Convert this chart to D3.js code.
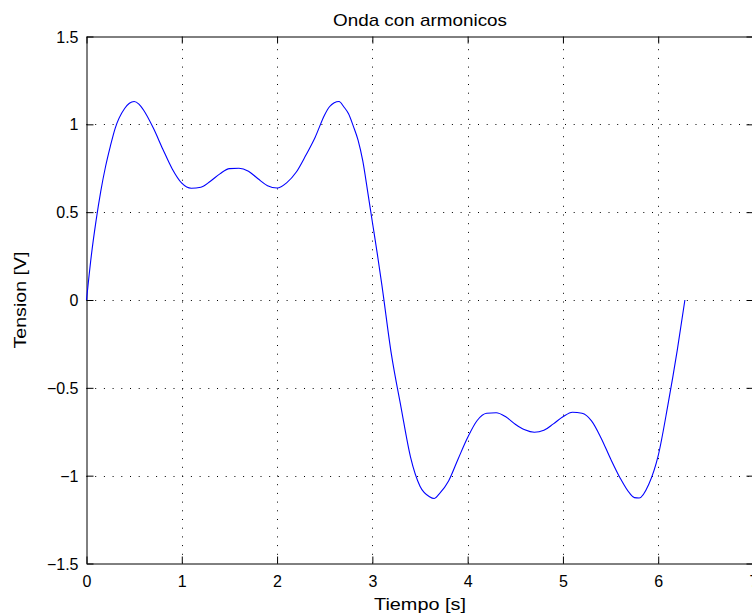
<!DOCTYPE html>
<html>
<head>
<meta charset="utf-8">
<script src="https://cdn.jsdelivr.net/npm/d3@7"></script>
<style>
  body { margin: 0; background: #fff; }
  text { font-family: "Liberation Sans", Arial, sans-serif; fill: #000; }
</style>
</head>
<body>
<div id="chart"></div>
<script>
const tiempo = [0, 0.05, 0.1, 0.15, 0.2, 0.25, 0.3, 0.4, 0.45, 0.5, 0.55, 0.6, 0.7, 0.8, 0.9,
  1.0, 1.1, 1.2, 1.3, 1.4, 1.5, 1.6, 1.7, 1.8, 1.9, 2.0, 2.1, 2.2, 2.3, 2.4, 2.5, 2.55, 2.6, 2.65, 2.7,
  2.75, 2.8, 2.85, 2.9, 2.95, 3.0, 3.05, 3.1, 3.2, 3.3, 3.4, 3.5, 3.6, 3.65, 3.7, 3.8, 3.9, 4.0, 4.1,
  4.2, 4.3, 4.4, 4.5, 4.6, 4.7, 4.8, 4.9, 5.0, 5.1, 5.2, 5.3, 5.4, 5.5, 5.6, 5.7, 5.75, 5.8,
  5.9, 6.0, 6.1, 6.2, 6.28];
const tension = [0, 0.25, 0.45, 0.62, 0.76, 0.875, 0.976, 1.09, 1.12, 1.13, 1.115, 1.08, 0.98, 0.86, 0.746,
  0.665, 0.636, 0.642, 0.676, 0.718, 0.748, 0.75, 0.733, 0.69, 0.651, 0.638, 0.667, 0.727, 0.822, 0.927, 1.055, 1.10, 1.123, 1.13, 1.10,
  1.06, 0.99, 0.91, 0.79, 0.62, 0.444, 0.27, 0.085, -0.31, -0.608, -0.893, -1.06, -1.12, -1.13, -1.105, -1.03, -0.905, -0.783, -0.686,
  -0.645, -0.642, -0.665, -0.707, -0.739, -0.753, -0.742, -0.705, -0.665, -0.639, -0.645, -0.688, -0.785, -0.904, -1.013, -1.10, -1.125, -1.127,
  -1.05, -0.886, -0.603, -0.285, 0];
const xTicks = [0, 1, 2, 3, 4, 5, 6, 7];
const yTicks = [-1.5, -1, -0.5, 0, 0.5, 1, 1.5];

const width = 752, height = 614;
const m_left = 86.5, m_top = 36.5, m_right = 753.5, m_bottom = 563.5;

const svg = d3.select("#chart")
  .append("svg")
    .attr("width", width)
    .attr("height", height);

const x = d3.scaleLinear().domain([0, 7]).range([m_left, m_right]);
const y = d3.scaleLinear().domain([-1.5, 1.5]).range([m_bottom, m_top]);

// dotted grid
const grid = svg.append("g")
  .attr("stroke", "#000")
  .attr("stroke-width", 1)
  .attr("stroke-dasharray", "1,7.7");
grid.selectAll(".gx")
  .data(xTicks.slice(1, -1))
  .enter()
  .append("line")
    .attr("x1", d => Math.round(x(d)) + 0.5)
    .attr("x2", d => Math.round(x(d)) + 0.5)
    .attr("y1", m_bottom)
    .attr("y2", m_top);
grid.selectAll(".gy")
  .data(yTicks.slice(1, -1))
  .enter()
  .append("line")
    .attr("y1", d => Math.round(y(d)) + 0.5)
    .attr("y2", d => Math.round(y(d)) + 0.5)
    .attr("x1", m_left)
    .attr("x2", m_right);

// axes, ticks pointing inward
const tk = 7;
const axB = svg.append("g").attr("transform", `translate(0,${m_bottom})`)
  .call(d3.axisBottom(x).tickValues(xTicks).tickSizeInner(-tk).tickSizeOuter(0).tickPadding(tk + 5).tickFormat(d3.format("d")));
const axT = svg.append("g").attr("transform", `translate(0,${m_top})`)
  .call(d3.axisTop(x).tickValues(xTicks).tickSizeInner(-tk).tickSizeOuter(0).tickFormat(""));
const axL = svg.append("g").attr("transform", `translate(${m_left},0)`)
  .call(d3.axisLeft(y).tickValues(yTicks).tickSizeInner(-tk).tickSizeOuter(0).tickPadding(8)
    .tickFormat(d => (d < 0 ? "\u2212" + Math.abs(d) : String(d))));
const axR = svg.append("g").attr("transform", `translate(${m_right},0)`)
  .call(d3.axisRight(y).tickValues(yTicks).tickSizeInner(-tk).tickSizeOuter(0).tickFormat(""));

[axB, axT, axL, axR].forEach(a => {
  a.select(".domain").attr("stroke", "#000").attr("stroke-width", 1);
  a.selectAll(".tick line").attr("stroke", "#000");
  a.selectAll(".tick text")
    .attr("font-size", "16px")
    .attr("font-family", "Liberation Sans, Arial, sans-serif")
    .attr("fill", "#000");
});
axL.selectAll(".tick text").attr("dy", "0.35em");

// curve
const line = d3.line()
  .x(d => x(d[0]))
  .y(d => y(d[1]))
  .curve(d3.curveMonotoneX);
svg.append("path")
  .datum(d3.zip(tiempo, tension))
  .attr("fill", "none")
  .attr("stroke", "#0000ff")
  .attr("stroke-width", 1.1)
  .attr("d", line);

// labels (the reference text runs wider than its height suggests)
svg.append("text")
  .attr("x", (m_left + m_right) / 2)
  .attr("y", 26)
  .attr("text-anchor", "middle")
  .attr("font-size", "17px")
  .attr("textLength", 174)
  .attr("lengthAdjust", "spacingAndGlyphs")
  .text("Onda con armonicos");
svg.append("text")
  .attr("x", (m_left + m_right) / 2)
  .attr("y", 610)
  .attr("text-anchor", "middle")
  .attr("font-size", "17px")
  .attr("textLength", 92)
  .attr("lengthAdjust", "spacingAndGlyphs")
  .text("Tiempo [s]");
svg.append("text")
  .attr("transform", `translate(26,${(m_top + m_bottom) / 2}) rotate(-90)`)
  .attr("text-anchor", "middle")
  .attr("font-size", "17px")
  .attr("textLength", 97)
  .attr("lengthAdjust", "spacingAndGlyphs")
  .text("Tension [V]");
</script>
</body>
</html>
